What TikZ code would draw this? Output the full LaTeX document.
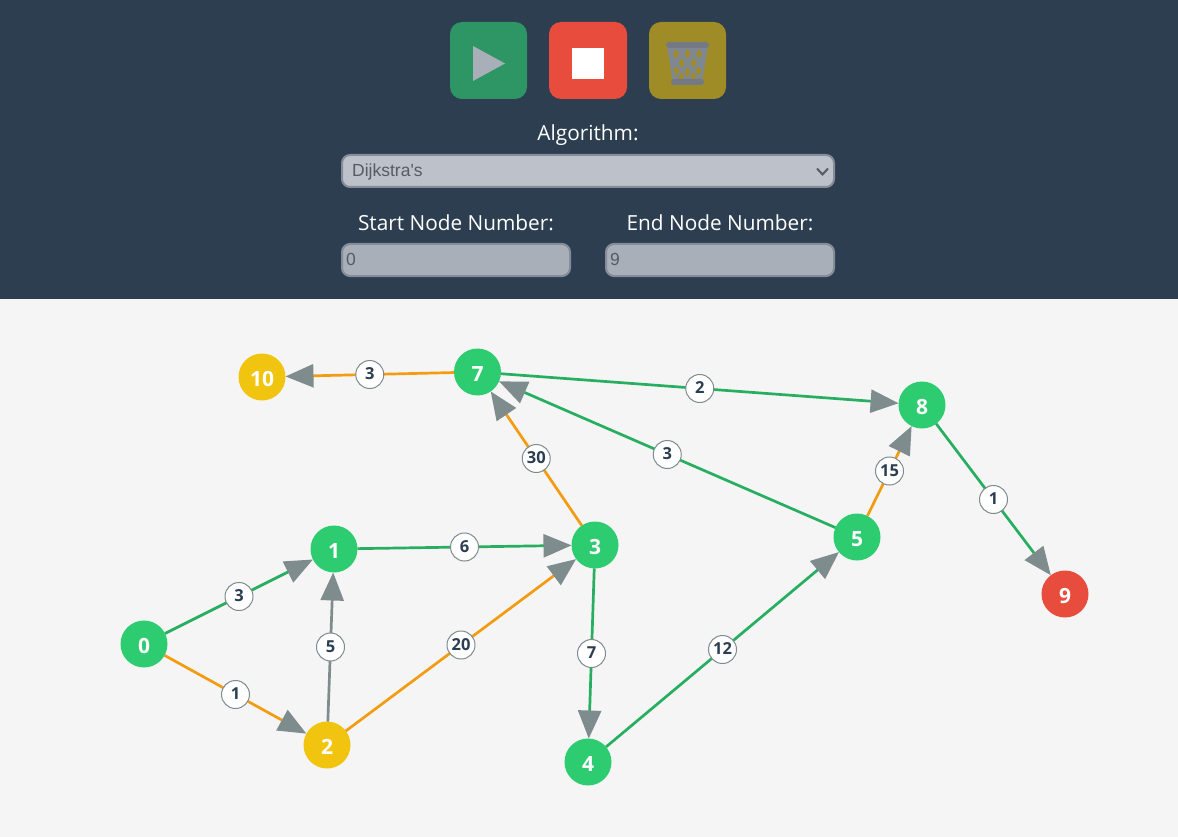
\documentclass[tikz,border=0pt]{standalone}
\usepackage{fontspec}
\setmainfont{Open Sans}
\newfontfamily\formfont{Liberation Sans}
\usetikzlibrary{arrows.meta}
\definecolor{panelblue}{HTML}{2C3E50}
\definecolor{pagegray}{HTML}{F5F5F5}
\definecolor{nodegreen}{HTML}{2ECC71}
\definecolor{nodeyellow}{HTML}{F1C40F}
\definecolor{nodered}{HTML}{E74C3C}
\definecolor{linegreen}{HTML}{27AE60}
\definecolor{lineorange}{HTML}{F39C12}
\definecolor{linegray}{HTML}{7F8C8D}
\definecolor{playgreen}{HTML}{2D9664}
\definecolor{trasholive}{HTML}{A08C27}
\definecolor{trashgray}{HTML}{7F8792}
\definecolor{trashdark}{HTML}{737A85}
\definecolor{iconfill}{HTML}{A9AFB8}
\definecolor{selectfill}{HTML}{BDC1C9}
\definecolor{fieldborder}{HTML}{858D9A}
\definecolor{fieldtext}{HTML}{565C64}
\tikzstyle{vertex} = [circle, minimum size=47pt, inner sep=0pt, outer sep=0pt, text=white, text height=18.4pt, text depth=0pt, font=\fontsize{21}{21}\selectfont\bfseries]
\tikzstyle{line} = [draw, line width=2.7pt, -{Triangle[length=28pt,width=23pt,color=linegray]}]
\tikzstyle{weight} = [circle, draw=linegray, fill=white, line width=1pt, minimum size=28pt, inner sep=0pt, text=panelblue, text height=10pt, text depth=0pt, font=\fontsize{16.5}{16.5}\selectfont\bfseries]
\tikzstyle{button} = [rectangle, rounded corners=12pt, minimum width=77pt, minimum height=77pt, inner sep=0pt]
\tikzstyle{field} = [rectangle, rounded corners=8pt, draw=fieldborder, line width=2pt, minimum height=32pt, inner sep=0pt]
\tikzstyle{formlabel} = [text=white, font=\fontsize{20.8}{20.8}\selectfont]
\tikzstyle{formvalue} = [text=fieldtext, font=\fontsize{17.5}{17.5}\selectfont\formfont, anchor=west, inner sep=0pt]
\begin{document}
\begin{tikzpicture}[x=1pt, y=-1pt]
	\useasboundingbox (0, 0) rectangle (1178, 837);
	\fill[pagegray] (0, 0) rectangle (1178, 837);
	\fill[panelblue] (0, 0) rectangle (1178, 299);

	% buttons
	\node[button, fill=playgreen] (PLAY) at (488.5, 60.5) {};
	\node[button, fill=nodered, minimum width=78pt] (STOP) at (588, 60.5) {};
	\node[button, fill=trasholive] (TRASH) at (687.5, 60.5) {};
	\fill[iconfill] (473, 46) -- (505, 63.5) -- (473, 81) -- cycle;
	\fill[white] (572, 48) rectangle (604, 79);

	% trash can
	\fill[trashgray] (667, 46) -- (708, 46) -- (702, 82) -- (673, 82) -- cycle;
	\foreach \x/\y in {676/54, 687.5/54, 699/54, 681.5/63, 693.5/63, 676.5/71, 687.5/72, 698.5/71, 681.5/77, 693.5/77} {
		\fill[trasholive] (\x, \y-5) -- (\x+3, \y) -- (\x, \y+5) -- (\x-3, \y) -- cycle;
	}
	\fill[trashdark, rounded corners=3pt] (666, 42) rectangle (709, 48);
	\fill[trashdark, rounded corners=3pt] (671, 79) rectangle (704, 85);

	% form
	\node[formlabel] (ALGO) at (588, 135) {Algorithm:};
	\node[field, fill=selectfill, minimum width=492pt] (SELECT) at (588, 171) {};
	\node[formvalue] (DIJ) at (352, 172) {Dijkstra's};
	\draw[fieldtext, line width=2pt] (817, 168.5) -- (822.5, 174.5) -- (828, 168.5);
	\node[formlabel] (STARTL) at (456, 223) {Start Node Number:};
	\node[formlabel] (ENDL) at (720, 223) {End Node Number:};
	\node[field, fill=iconfill, minimum width=228pt] (START) at (456, 260) {};
	\node[field, fill=iconfill, minimum width=228pt] (END) at (720, 260) {};
	\node[formvalue] (STARTV) at (346, 259.5) {0};
	\node[formvalue] (ENDV) at (610, 259.5) {9};

	% nodes
	\node[vertex, fill=nodegreen] (N0) at (144, 644) {0};
	\node[vertex, fill=nodegreen] (N1) at (334, 549) {1};
	\node[vertex, fill=nodeyellow] (N2) at (327, 745) {2};
	\node[vertex, fill=nodegreen] (N3) at (595, 545) {3};
	\node[vertex, fill=nodegreen] (N4) at (588, 762) {4};
	\node[vertex, fill=nodegreen] (N5) at (857, 537) {5};
	\node[vertex, fill=nodegreen] (N7) at (477.5, 372) {7};
	\node[vertex, fill=nodegreen] (N8) at (922, 405) {8};
	\node[vertex, fill=nodered] (N9) at (1065, 594) {9};
	\node[vertex, fill=nodeyellow] (N10) at (262, 377) {10};

	% arrows
	\draw [line, linegreen] (N0) -- node[weight] {3} (N1);
	\draw [line, lineorange] (N0) -- node[weight] {1} (N2);
	\draw [line, linegray] (N2) -- node[weight] {5} (N1);
	\draw [line, linegreen] (N1) -- node[weight] {6} (N3);
	\draw [line, lineorange] (N2) -- node[weight] {20} (N3);
	\draw [line, lineorange] (N3) -- node[weight] {30} (N7);
	\draw [line, linegreen] (N3) -- node[weight] {7} (N4);
	\draw [line, linegreen] (N4) -- node[weight] {12} (N5);
	\draw [line, linegreen] (N5) -- node[weight] {3} (N7);
	\draw [line, lineorange] (N5) -- node[weight] {15} (N8);
	\draw [line, linegreen] (N7) -- node[weight] {2} (N8);
	\draw [line, lineorange] (N7) -- node[weight] {3} (N10);
	\draw [line, linegreen] (N8) -- node[weight] {1} (N9);
\end{tikzpicture}
\end{document}
